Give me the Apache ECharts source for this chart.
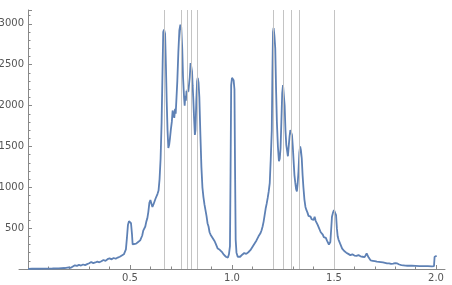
<!DOCTYPE html>
<html><head><meta charset="utf-8">
<script src="https://cdn.jsdelivr.net/npm/echarts@6/dist/echarts.min.js"></script>
<style>html,body{margin:0;padding:0;background:#fff}#c{width:452px;height:285px}</style>
</head><body><div id="c"></div>
<script>
var xs = [0,0.02,0.05,0.08,0.10,0.12,0.15,0.18,0.20,0.21,0.22,0.23,0.24,0.25,0.26,0.27,0.28,0.29,0.30,0.31,0.32,0.33,0.34,0.35,0.36,0.37,0.38,0.39,0.40,0.41,0.42,0.43,0.44,0.45,0.46,0.47,0.48,0.485,0.49,0.495,0.50,0.505,0.51,0.513,0.52,0.53,0.54,0.55,0.56,0.565,0.57,0.575,0.58,0.585,0.59,0.595,0.60,0.605,0.61,0.615,0.62,0.625,0.63,0.635,0.64,0.645,0.65,0.655,0.66,0.663,0.667,0.672,0.676,0.68,0.684,0.688,0.692,0.696,0.70,0.705,0.709,0.713,0.717,0.721,0.724,0.728,0.732,0.737,0.742,0.747,0.751,0.756,0.76,0.765,0.768,0.771,0.774,0.777,0.78,0.783,0.786,0.789,0.793,0.797,0.80,0.804,0.807,0.81,0.814,0.818,0.821,0.825,0.829,0.832,0.836,0.84,0.845,0.85,0.855,0.86,0.865,0.87,0.875,0.88,0.885,0.89,0.895,0.90,0.905,0.91,0.915,0.92,0.925,0.93,0.935,0.94,0.945,0.95,0.955,0.96,0.965,0.97,0.975,0.98,0.985,0.99,0.993,0.996,1.0,1.004,1.008,1.012,1.015,1.018,1.022,1.028,1.035,1.04,1.05,1.06,1.07,1.08,1.09,1.10,1.11,1.12,1.13,1.14,1.145,1.15,1.155,1.16,1.165,1.17,1.175,1.18,1.185,1.19,1.195,1.198,1.201,1.204,1.208,1.212,1.216,1.22,1.225,1.23,1.234,1.238,1.242,1.246,1.25,1.254,1.258,1.262,1.266,1.27,1.274,1.278,1.282,1.286,1.29,1.294,1.298,1.302,1.306,1.31,1.314,1.318,1.322,1.326,1.33,1.334,1.338,1.342,1.346,1.35,1.355,1.36,1.365,1.37,1.375,1.38,1.385,1.39,1.395,1.40,1.405,1.41,1.415,1.42,1.425,1.43,1.435,1.44,1.445,1.45,1.455,1.46,1.465,1.47,1.475,1.478,1.482,1.486,1.49,1.495,1.50,1.505,1.51,1.514,1.518,1.522,1.53,1.54,1.55,1.56,1.57,1.58,1.59,1.60,1.61,1.62,1.63,1.64,1.65,1.66,1.665,1.67,1.68,1.69,1.70,1.71,1.72,1.73,1.74,1.75,1.76,1.77,1.78,1.79,1.80,1.81,1.82,1.83,1.84,1.85,1.86,1.88,1.90,1.92,1.94,1.96,1.98,1.99,1.993,1.997,2.003];
var ys = [2,3,3,4,5,6,8,12,20,15,30,45,38,50,42,55,48,60,70,85,72,80,90,82,95,110,100,120,130,118,135,125,140,150,165,180,240,380,540,585,590,560,420,300,290,310,330,350,410,470,480,520,580,620,700,810,843,830,760,790,800,860,880,920,960,1100,1350,1800,2500,2900,2930,2880,2500,2050,1700,1480,1520,1600,1700,1800,1940,1900,1850,1960,1900,2100,2300,2650,2920,2990,2960,2700,2350,2100,2000,2120,2060,2180,2150,2200,2170,2150,2350,2520,2480,2420,2250,2100,1850,1640,1700,2050,2300,2340,2280,2100,1650,1250,1000,880,790,720,650,560,520,450,420,400,380,360,340,310,280,250,240,235,220,210,190,175,180,150,130,140,180,280,1200,2250,2340,2350,2310,2200,1200,360,200,150,160,150,175,195,185,205,230,270,310,350,400,440,475,520,580,660,740,800,870,950,1050,1350,1700,2400,2900,2950,2850,2700,2200,1800,1500,1320,1350,1480,1800,2150,2250,2230,2000,1700,1520,1450,1380,1500,1620,1700,1720,1640,1500,1320,1150,1060,980,950,1050,1200,1420,1500,1450,1350,1150,1000,850,760,720,690,650,630,640,610,630,600,640,590,570,540,510,490,450,430,420,390,370,380,350,330,300,280,330,480,640,690,720,715,660,500,400,360,310,250,220,200,185,170,180,165,160,170,155,150,145,190,185,140,105,100,95,90,88,85,80,75,70,68,62,65,72,68,55,48,45,42,40,40,38,36,35,35,33,34,150,165,160];
var markerXs = [2/3, 3/4, 7/9, 4/5, 5/6, 6/5, 5/4, 9/7, 4/3, 3/2];
var xTicks = [0.5, 1.0, 1.5, 2.0];
var xMinorTicks = [0.1,0.2,0.3,0.4,0.6,0.7,0.8,0.9,1.1,1.2,1.3,1.4,1.6,1.7,1.8,1.9];
var yTicks = [500, 1000, 1500, 2000, 2500, 3000];

var pts = xs.map(function(x, i){ return [x, ys[i]]; });
var chart = echarts.init(document.getElementById('c'));
var axisCol = '#888';
var labCol = '#555';
var X_MIN = -0.044, X_MAX = 2.044;
chart.setOption({
  animation: false,
  grid: {left: 19, right: 7, top: 10, bottom: 16, containLabel: false, outerBoundsMode: 'none'},
  xAxis: [{
    type: 'value', min: X_MIN, max: X_MAX, position: 'bottom',
    axisLine: {lineStyle: {color: axisCol, width: 1}},
    axisTick: {inside: true, length: 4, customValues: xTicks, lineStyle: {color: axisCol}},
    splitLine: {show: false},
    axisLabel: {color: labCol, fontSize: 10, fontFamily: 'DejaVu Sans', margin: 4,
      customValues: xTicks, formatter: function(v){ return (+v).toFixed(1); }}
  }, {
    type: 'value', min: X_MIN, max: X_MAX, position: 'bottom',
    axisLine: {show: false},
    axisTick: {show: true, inside: true, length: 2.5, customValues: xMinorTicks, lineStyle: {color: axisCol}},
    splitLine: {show: false},
    axisLabel: {show: false}
  }],
  yAxis: {
    type: 'value', min: 0, max: 3170, interval: 500, offset: -9,
    axisLine: {show: true, onZero: false, lineStyle: {color: axisCol, width: 1}},
    axisTick: {show: true, inside: true, length: 4, lineStyle: {color: axisCol}},
    minorTick: {show: true, splitNumber: 5, length: 2.5, lineStyle: {color: axisCol}},
    splitLine: {show: false},
    axisLabel: {color: labCol, fontSize: 10, fontFamily: 'DejaVu Sans', margin: 4,
      formatter: function(v){ return yTicks.indexOf(v) >= 0 ? String(v) : ''; }}
  },
  series: [{
    type: 'line', data: pts, showSymbol: false, smooth: false, xAxisIndex: 0,
    lineStyle: {color: '#5E81B5', width: 1.8},
    z: 3,
    markLine: {
      silent: true, symbol: ['none', 'none'], label: {show: false},
      lineStyle: {color: '#c4c4c4', width: 1, type: 'solid'},
      data: markerXs.map(function(x){ return {xAxis: x}; })
    }
  }]
});
</script></body></html>
